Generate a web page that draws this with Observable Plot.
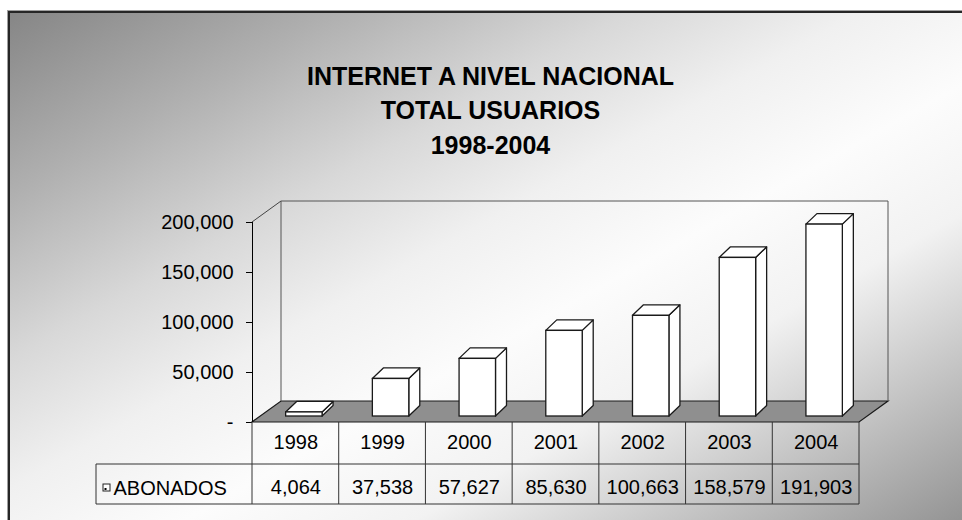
<!DOCTYPE html>
<html>
<head>
<meta charset="utf-8">
<script src="https://cdn.jsdelivr.net/npm/d3@7"></script>
<script src="https://cdn.jsdelivr.net/npm/@observablehq/plot@0.6"></script>
<style>
  html, body { margin: 0; padding: 0; background: #ffffff; }
  #wrap { position: relative; width: 962px; height: 520px; overflow: hidden; }
  #bg {
    position: absolute; left: 8px; top: 11px; width: 964px; height: 540px;
    border-left: 2px solid #262626; border-top: 2px solid #262626;
    box-shadow: -1px -1px 0 #a0a0a0;
    background: linear-gradient(to bottom right,
      #868686 0%, #b0b0b0 17%, #d8d8d8 32%, #f0f0f0 44%, #fcfcfc 56%,
      #f2f2f2 68%, #c0c0c0 83%, #888888 100%);
  }
  #chart { position: absolute; left: 0; top: 0; }
</style>
</head>
<body>
<div id="wrap"><div id="bg"></div><div id="chart"></div></div>
<script>
// ---- data ----
const years = ["1998", "1999", "2000", "2001", "2002", "2003", "2004"];
const abonados = [4064, 37538, 57627, 85630, 100663, 158579, 191903];
const yTicks = [0, 50000, 100000, 150000, 200000];
const titleLines = ["INTERNET A NIVEL NACIONAL", "TOTAL USUARIOS", "1998-2004"];
const seriesLabel = "ABONADOS";

// ---- table built from the arrays ----
const rows = years.map((year, i) => ({ i, year, value: abonados[i] }));
const fmt = d3.format(",");

// 3-D style settings (pixels)
const FLOOR = { dx: 29, dy: -21 };
const BAR = { ox: 8.5, oy: -6, dx: 11, dy: -10.5, half: 0.21 };
const TABLE = { row1: 42, row2: 82, labelW: 156 };

function backdrop(index, { x, y }) {
  const g = d3.create("svg:g");
  const xl = x(-0.5), xr = x(years.length - 0.5);
  const y0 = y(0), yt = y(yTicks[yTicks.length - 1]);
  const { dx, dy } = FLOOR;
  g.append("path")
    .attr("d", `M${xl},${y0}L${xr},${y0}L${xr + dx},${y0 + dy}L${xl + dx},${y0 + dy}Z`)
    .attr("fill", "#8f8f8f").attr("stroke", "#1a1a1a").attr("stroke-width", 1.2);
  g.append("path")
    .attr("d", `M${xl + dx},${y0 + dy}V${yt + dy}H${xr + dx}V${y0 + dy}`)
    .attr("fill", "none").attr("stroke", "#555");
  g.append("path")
    .attr("d", `M${xl},${yt}L${xl + dx},${yt + dy}`)
    .attr("fill", "none").attr("stroke", "#444");
  return g.node();
}

function barSides(index, { x, y }) {
  const g = d3.create("svg:g").attr("stroke", "#1a1a1a").attr("fill", "#ffffff")
    .attr("stroke-width", 1.3).attr("stroke-linejoin", "round");
  rows.forEach(r => {
    const xa = x(r.i - BAR.half) + BAR.ox, xb = x(r.i + BAR.half) + BAR.ox;
    const yb = y(0) + BAR.oy, yt = y(r.value) + BAR.oy;
    g.append("path").attr("d", `M${xb},${yb}V${yt}l${BAR.dx},${BAR.dy}V${yb + BAR.dy}Z`);
    g.append("path").attr("d", `M${xa},${yt}H${xb}l${BAR.dx},${BAR.dy}H${xa + BAR.dx}Z`);
  });
  return g.node();
}

function tableGrid(index, { x, y }) {
  const g = d3.create("svg:g").attr("stroke", "#333").attr("fill", "none");
  const xl = x(-0.5), xr = x(years.length - 0.5), y0 = y(0);
  const r1 = y0 + TABLE.row1, r2 = y0 + TABLE.row2, lx = xl - TABLE.labelW;
  let d = `M${lx},${r1}H${xr}M${lx},${r2}H${xr}M${lx},${r1}V${r2}`;
  for (let i = 0; i <= years.length; i++) d += `M${x(i - 0.5)},${y0}V${r2}`;
  g.append("path").attr("d", d);
  // legend key
  g.append("rect").attr("x", lx + 7).attr("y", r1 + 20).attr("width", 7).attr("height", 7)
    .attr("fill", "#ffffff").attr("stroke", "#222");
  g.append("rect").attr("x", lx + 8.5).attr("y", r1 + 24).attr("width", 2).attr("height", 2)
    .attr("fill", "#000").attr("stroke", "none");
  return g.node();
}

const plot = Plot.plot({
  width: 962,
  height: 520,
  marginLeft: 252,
  marginRight: 103,
  marginTop: 222,
  marginBottom: 98,
  style: {
    background: "transparent",
    overflow: "visible",
    fontFamily: "'Liberation Sans', Arial, sans-serif",
    fontSize: "20px",
    color: "#000"
  },
  x: { type: "linear", domain: [-0.5, years.length - 0.5], axis: null },
  y: {
    domain: [0, 200000],
    ticks: yTicks,
    tickFormat: d => d === 0 ? "-" : fmt(d),
    tickSize: 6,
    tickPadding: 13,
    label: null
  },
  marks: [
    backdrop,
    Plot.ruleX([-0.5], { y1: 0, y2: yTicks[yTicks.length - 1], stroke: "#000" }),
    barSides,
    Plot.rect(rows, {
      x1: d => d.i - BAR.half, x2: d => d.i + BAR.half,
      y1: 0, y2: "value",
      dx: BAR.ox, dy: BAR.oy,
      fill: "#ffffff", stroke: "#1a1a1a", strokeWidth: 1.3
    }),
    tableGrid,
    Plot.text(rows, { x: "i", text: "year", frameAnchor: "bottom", dy: 26, lineAnchor: "bottom", fill: "#000" }),
    Plot.text(rows, { x: "i", text: d => fmt(d.value), frameAnchor: "bottom", dy: 71, lineAnchor: "bottom", fill: "#000" }),
    Plot.text([seriesLabel], { frameAnchor: "bottom-left", dx: -139, dy: 72, textAnchor: "start", lineAnchor: "bottom", fill: "#000", letterSpacing: 1 }),
    ...titleLines.map((t, k) => Plot.text([t], {
      frameAnchor: "top-left", dx: 238, dy: -138 + 34.5 * k,
      textAnchor: "middle", lineAnchor: "bottom",
      fontSize: 25, fontWeight: "bold", fill: "#000"
    }))
  ]
});
document.getElementById("chart").appendChild(plot);
</script>
</body>
</html>
